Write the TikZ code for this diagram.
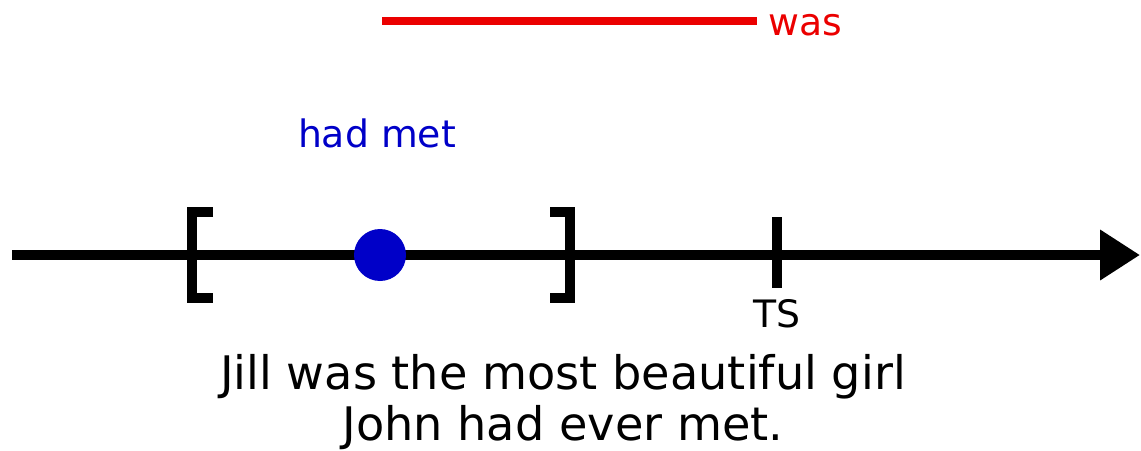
\documentclass[tikz,border=0pt]{standalone}
\usepackage{fontspec}
\setmainfont{DejaVu Sans}
\usepackage{xcolor}
\usetikzlibrary{arrows.meta,positioning}

\definecolor{pastblue}{RGB}{0,0,200}
\definecolor{wasred}{RGB}{235,0,0}

\begin{document}
\begin{tikzpicture}[x=0.02cm,y=-0.02cm,
        axis/.style={black,line width=6.2pt},
        brack/.style={black,line width=5.5pt,line join=miter},
        lbl/.style={inner sep=0pt,font=\fontsize{21.5}{26}\selectfont}]
    \useasboundingbox (0,0) rectangle (1141,450);

        % time line
        \coordinate (start) at (12,255);
        \coordinate (end) at (1140,255);
        \draw[axis,-{Triangle[length=22.7pt,width=27.3pt]}] (start) -- (end);

        % reference interval
        \coordinate (lb) at (192,255);
        \coordinate (rb) at (570,255);
        \draw[brack] (lb) ++(21,-43) -- ++(-21,0) -- ++(0,86) -- ++(21,0);
        \draw[brack] (rb) ++(-20,-43) -- ++(20,0) -- ++(0,86) -- ++(-20,0);

        % event
        \node[circle,fill=pastblue,inner sep=0pt,minimum size=1.04cm] (event) at (380,255) {};
        \node[lbl,pastblue,anchor=base] (hadmet) at (377,147) {had met};

        % time of speech
        \coordinate (ts) at (777,255);
        \draw[axis,line width=5.7pt] (ts) ++(0,-38) -- ++(0,71);
        \node[lbl,anchor=base] (tslabel) at (777,327) {TS};

        % state
        \coordinate (wasstart) at (382,21);
        \node[lbl,wasred,anchor=base west] (was) at (768,35) {was};
        \draw[wasred,line width=4pt,shorten >=6.3pt] (wasstart) -- (wasstart -| was.west);

        \node[inner sep=0pt,align=center,anchor=base,font=\fontsize{26.3}{29}\selectfont] (sentence) at (563,440)
            {Jill was the most beautiful girl\\John had ever met.};

\end{tikzpicture}
\end{document}
